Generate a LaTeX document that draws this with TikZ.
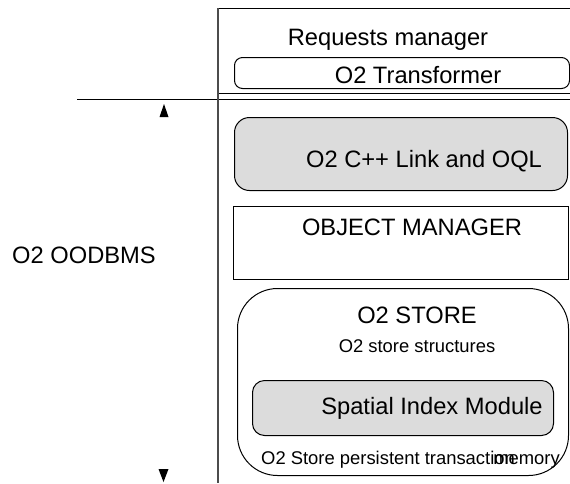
\documentclass[tikz,border=0pt]{standalone}
\usepackage{fontspec}
\setmainfont{Liberation Sans}
\usepackage{xcolor}
\definecolor{layergrey}{HTML}{DCDCDC}
\usetikzlibrary{positioning}
\tikzset{
  lyr/.style={draw, line width=1pt, inner sep=0pt, anchor=north west},
  lyrr/.style={lyr, rounded corners=#1},
  lyrgrey/.style={fill=layergrey},
  big/.style={font=\fontsize{23.7}{28}\selectfont, inner sep=0pt, anchor=base},
  small/.style={font=\fontsize{18.4}{22}\selectfont, inner sep=0pt, anchor=base},
  tipfill/.style={fill=black},
}

\begin{document}
\begin{tikzpicture}[x=1pt, y=-1pt]
  \clip (0,0) rectangle (570,483);
  % layers of the system
  \node[lyr, minimum width=360pt, minimum height=85pt] (req) at (218,8) {};
  \node[lyrr=8pt, minimum width=335pt, minimum height=31pt] (trans) at (234,57) {};
  \node[lyrr=15pt, lyrgrey, minimum width=333pt, minimum height=73pt] (link) at (234,117) {};
  \node[lyr, minimum width=335pt, minimum height=73pt] (objm) at (233,206) {};
  \node[lyrr=40pt, minimum width=331pt, minimum height=187pt] (store) at (237,288) {};
  \node[lyrr=12pt, lyrgrey, minimum width=301pt, minimum height=55pt] (spatial) at (252,380) {};
  % labels
  \node[big] (reqtxt) at (388,45) {Requests manager};
  \node[big] (transtxt) at (418,83) {O2 Transformer};
  \node[big] (linktxt) at (424,167) {O2 C++ Link and OQL};
  \node[big] (objmtxt) at (412,235) {OBJECT MANAGER};
  \node[big] (storetxt) at (417,323) {O2 STORE};
  \node[small] (structtxt) at (417,352) {O2 store structures};
  \node[big] (spatialtxt) at (432,414) {Spatial Index Module};
  \node[small, anchor=base west] (persisttxt) at (261,464) {O2 Store persistent transaction};
  \node[small, anchor=base east] (memtxt) at (560,464) {memory};
  \node[big] (oodbms) at (84,263) {O2 OODBMS};
  % frame lines
  \coordinate (hl) at (77,99);
  \coordinate (hr) at (570,99);
  \coordinate (vt) at (218,8);
  \coordinate (vb) at (218,483);
  \draw[line width=1pt] (hl) -- (hr);
  \draw[line width=1.3pt, black!70] (vt) -- (vb);
  % extent marks
  \fill[tipfill] (159.5,117) -- (168.5,117) -- (164,104) -- cycle;
  \fill[tipfill] (158.5,469) -- (168.5,469) -- (163.5,482) -- cycle;
\end{tikzpicture}
\end{document}
